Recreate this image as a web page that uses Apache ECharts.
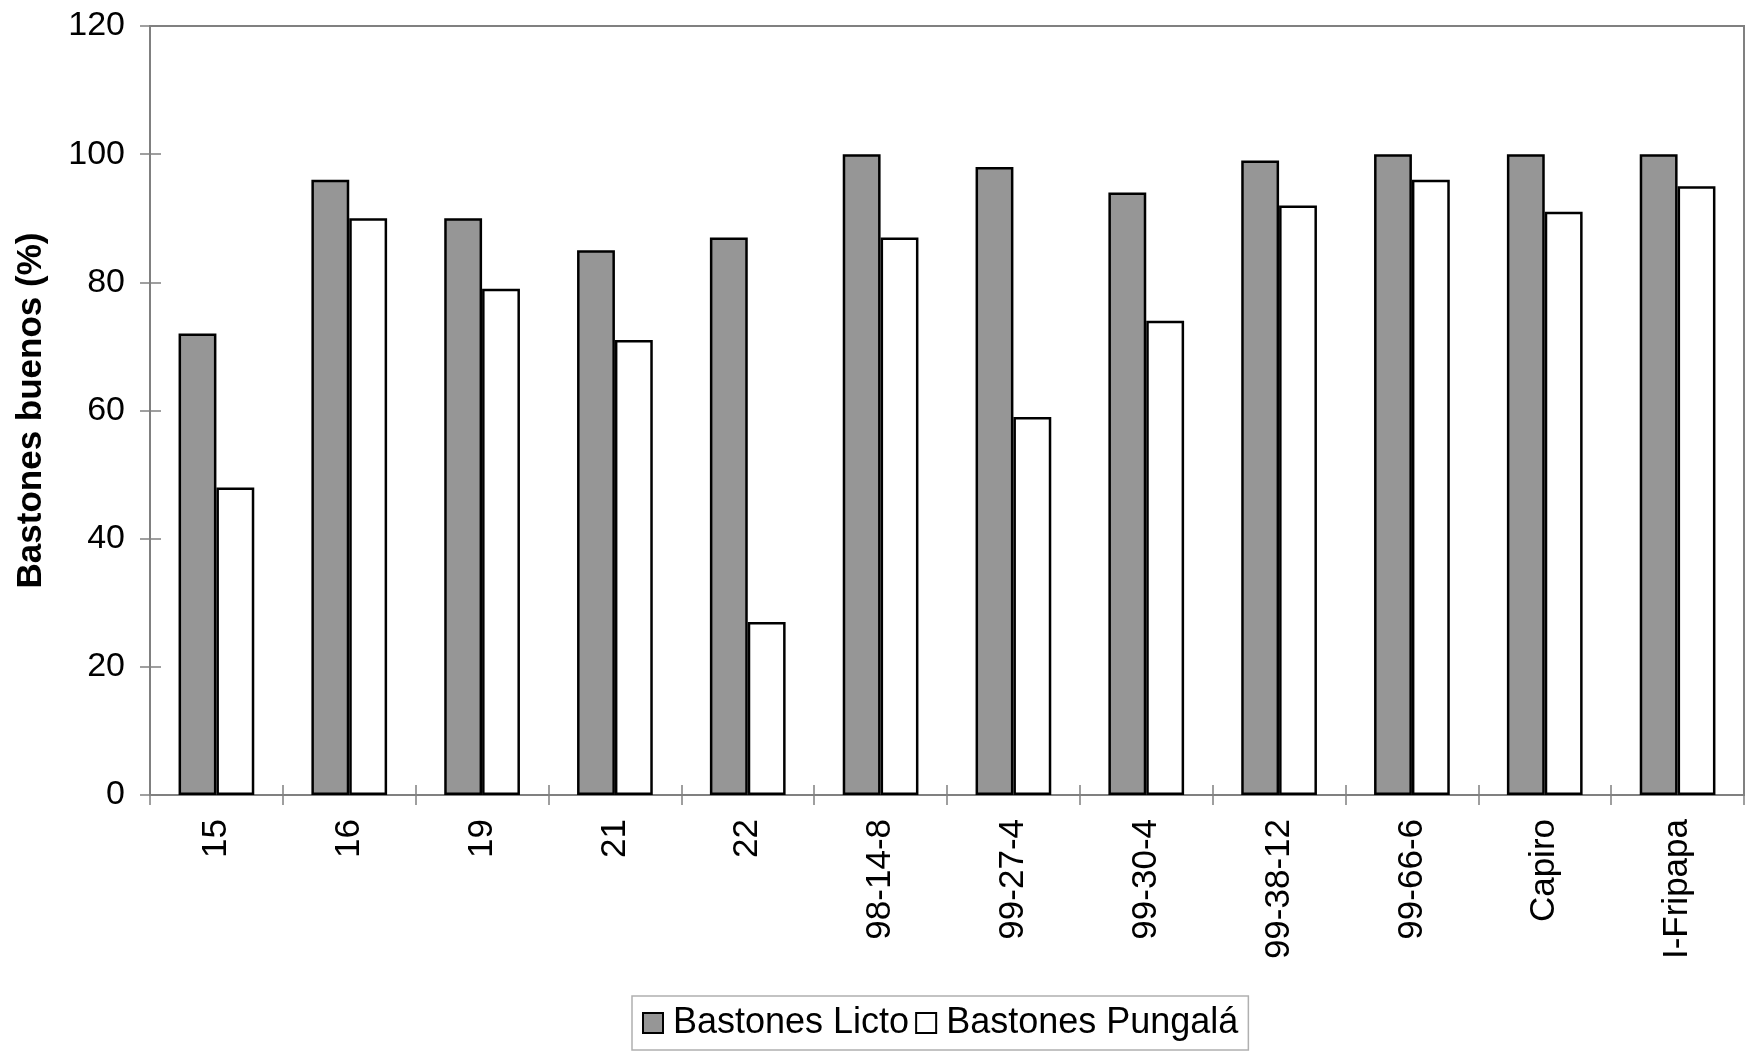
<!DOCTYPE html>
<html>
<head>
<meta charset="utf-8">
<script src="https://cdn.jsdelivr.net/npm/echarts@6/dist/echarts.min.js"></script>
<style>
html,body{margin:0;padding:0;background:#fff;}
#chart{width:1750px;height:1057px;}
</style>
</head>
<body>
<div id="chart"></div>
<script>
const categories = ['15','16','19','21','22','98-14-8','99-27-4','99-30-4','99-38-12','99-66-6','Capiro','I-Fripapa'];
const licto = [72, 96, 90, 85, 87, 100, 98, 94, 99, 100, 100, 100];
const pungala = [48, 90, 79, 71, 27, 87, 59, 74, 92, 96, 91, 95];
const seriesNames = ['Bastones Licto', 'Bastones Pungalá'];
const yTitle = 'Bastones buenos (%)';

const FONT = 'Liberation Sans, Arial, sans-serif';
const FS = 35;
const chart = echarts.init(document.getElementById('chart'));
chart.setOption({
  animation: false,
  backgroundColor: '#fff',
  textStyle: { fontFamily: FONT },
  grid: { left: 150, right: 6, top: 26, bottom: 262, show: true, borderColor: '#808080', borderWidth: 2, backgroundColor: '#fff', containLabel: false, outerBoundsMode: 'none' },
  legend: {
    left: 632, top: 996,
    data: seriesNames,
    icon: 'rect',
    itemWidth: 20, itemHeight: 20, itemGap: 6,
    padding: [9, 10, 9, 10],
    borderColor: '#b0b0b0', borderWidth: 1.5,
    backgroundColor: '#fff',
    textStyle: { fontSize: 36, color: '#000', fontFamily: FONT, padding: [0, 0, 0, 5] }
  },
  xAxis: [{
    type: 'category', data: categories,
    axisLine: { lineStyle: { color: '#808080', width: 2 } },
    axisTick: { show: true, length: 10, lineStyle: { color: '#808080', width: 1.5 } },
    axisLabel: { rotate: 90, fontSize: FS, color: '#000', margin: 24, fontFamily: FONT }
  }, {
    type: 'category', data: categories, position: 'bottom',
    axisLine: { show: false },
    axisTick: { show: true, inside: true, length: 10, lineStyle: { color: '#808080', width: 1.5 } },
    axisLabel: { show: false }
  }],
  yAxis: [{
    type: 'value', min: 0, max: 120, interval: 20,
    name: yTitle, nameLocation: 'middle', nameGap: 101, nameRotate: 90,
    nameTextStyle: { fontSize: FS, fontWeight: 'bold', color: '#000', fontFamily: FONT },
    axisLine: { show: true, lineStyle: { color: '#808080', width: 2 } },
    axisTick: { show: true, length: 10, lineStyle: { color: '#808080', width: 1.5 } },
    axisLabel: { fontSize: 34, color: '#000', margin: 25, fontFamily: FONT },
    splitLine: { show: false }
  }, {
    type: 'value', min: 0, max: 120, interval: 20, position: 'left',
    axisLine: { show: false },
    axisTick: { show: true, inside: true, length: 11, lineStyle: { color: '#808080', width: 1.5 } },
    axisLabel: { show: false },
    splitLine: { show: false }
  }],
  series: [{
    name: seriesNames[0], type: 'bar', data: licto,
    barGap: '0%', barCategoryGap: '43%',
    itemStyle: { color: '#969696', borderColor: '#000', borderWidth: 2.5 }
  }, {
    name: seriesNames[1], type: 'bar', data: pungala,
    barGap: '0%', barCategoryGap: '43%',
    itemStyle: { color: '#ffffff', borderColor: '#000', borderWidth: 2.5 }
  }]
});
</script>
</body>
</html>
